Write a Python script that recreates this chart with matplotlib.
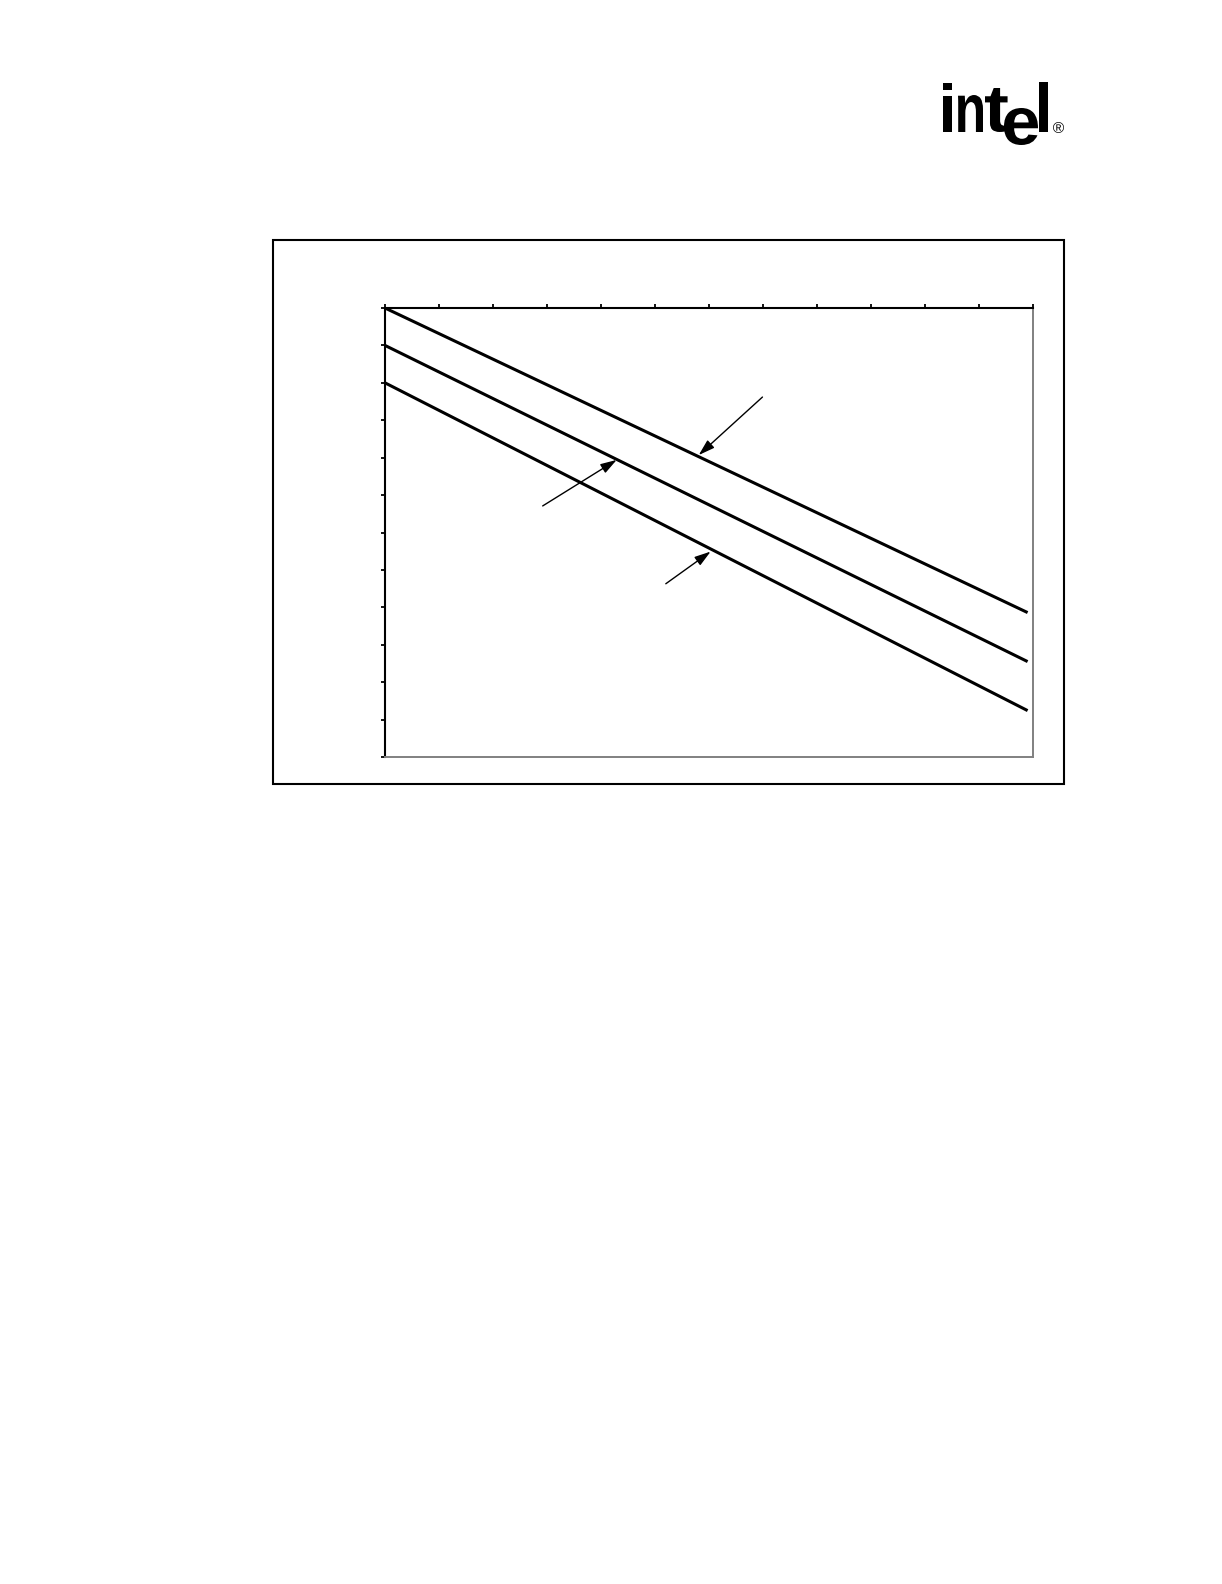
import matplotlib
matplotlib.use("Agg")
import matplotlib.pyplot as plt
from matplotlib.patches import Rectangle, PathPatch
from matplotlib.textpath import TextPath
from matplotlib.font_manager import FontProperties
from matplotlib.transforms import Affine2D

W, H = 1222, 1584

# grid in tick units (12 divisions on each axis, no labels shown in source)
x_ticks = list(range(0, 13))
y_ticks = list(range(0, 13))

# three straight curves, start / end points
x_vals = [0.0, 11.9]
upper = [12.0, 3.86]
middle = [11.0, 2.55]
lower = [10.0, 1.24]

# callout arrows (tail -> head), label text is missing in the source
arrow_tails = [(6.99, 9.62), (2.92, 6.71), (5.20, 4.63)]
arrow_heads = [(5.81, 8.07), (4.29, 7.94), (6.03, 5.49)]


def fx(px):
    return px / W


def fy(py):
    return 1 - py / H


def draw_glyph(fig, ch, box, family="Liberation Sans", weight="bold"):
    # fit a glyph outline into a pixel box (left, top, right, bottom)
    path = TextPath((0, 0), ch, size=1, prop=FontProperties(family=family, weight=weight))
    ext = path.get_extents()
    left, top, right, bottom = box
    sx = (right - left) / ext.width
    sy = (bottom - top) / ext.height
    tr = (Affine2D().translate(-ext.x0, -ext.y0).scale(sx / W, sy / H)
          .translate(fx(left), fy(bottom)) + fig.transFigure)
    fig.patches.append(PathPatch(path, transform=tr, facecolor="black", edgecolor="none"))


fig = plt.figure(figsize=(W / 100, H / 100), dpi=100)

# intel logo
draw_glyph(fig, "i", (943, 83, 952, 132))
draw_glyph(fig, "n", (958, 95, 983, 132))
draw_glyph(fig, "t", (985, 88, 1008, 132))
draw_glyph(fig, "e", (1004, 108, 1038, 145))
draw_glyph(fig, "l", (1039, 82, 1048, 132))
draw_glyph(fig, "®", (1053, 122, 1064, 133), weight="normal")

# outer frame around the chart
fig.patches.append(Rectangle((fx(273), fy(784)), fx(1064) - fx(273), fy(240) - fy(784),
                             transform=fig.transFigure, fill=False,
                             edgecolor="black", linewidth=1.5))

ax = fig.add_axes([fx(385), fy(757), fx(1033) - fx(385), fy(308) - fy(757)])
ax.set_xlim(0, 12)
ax.set_ylim(0, 12)

for ys in (upper, middle, lower):
    ax.plot(x_vals, ys, color="black", linewidth=2.2, solid_capstyle="butt")

for tail, head in zip(arrow_tails, arrow_heads):
    ax.annotate("", xy=head, xytext=tail,
                arrowprops=dict(arrowstyle="-|>,head_length=0.7,head_width=0.22",
                                color="black", lw=1.0, mutation_scale=14,
                                shrinkA=0, shrinkB=0))

ax.set_xticks(x_ticks)
ax.set_yticks(y_ticks)
ax.tick_params(axis="x", which="both", bottom=False, top=True, labelbottom=False,
               labeltop=False, direction="out", length=3, width=1.3, color="black")
ax.tick_params(axis="y", which="both", left=True, right=False, labelleft=False,
               direction="out", length=3, width=1.3, color="black")

ax.spines["top"].set_color("black")
ax.spines["left"].set_color("black")
ax.spines["top"].set_linewidth(1.5)
ax.spines["left"].set_linewidth(1.5)
ax.spines["bottom"].set_color("#808080")
ax.spines["right"].set_color("#808080")
ax.spines["bottom"].set_linewidth(1.4)
ax.spines["right"].set_linewidth(1.4)

fig.savefig("out.png", dpi=100)
